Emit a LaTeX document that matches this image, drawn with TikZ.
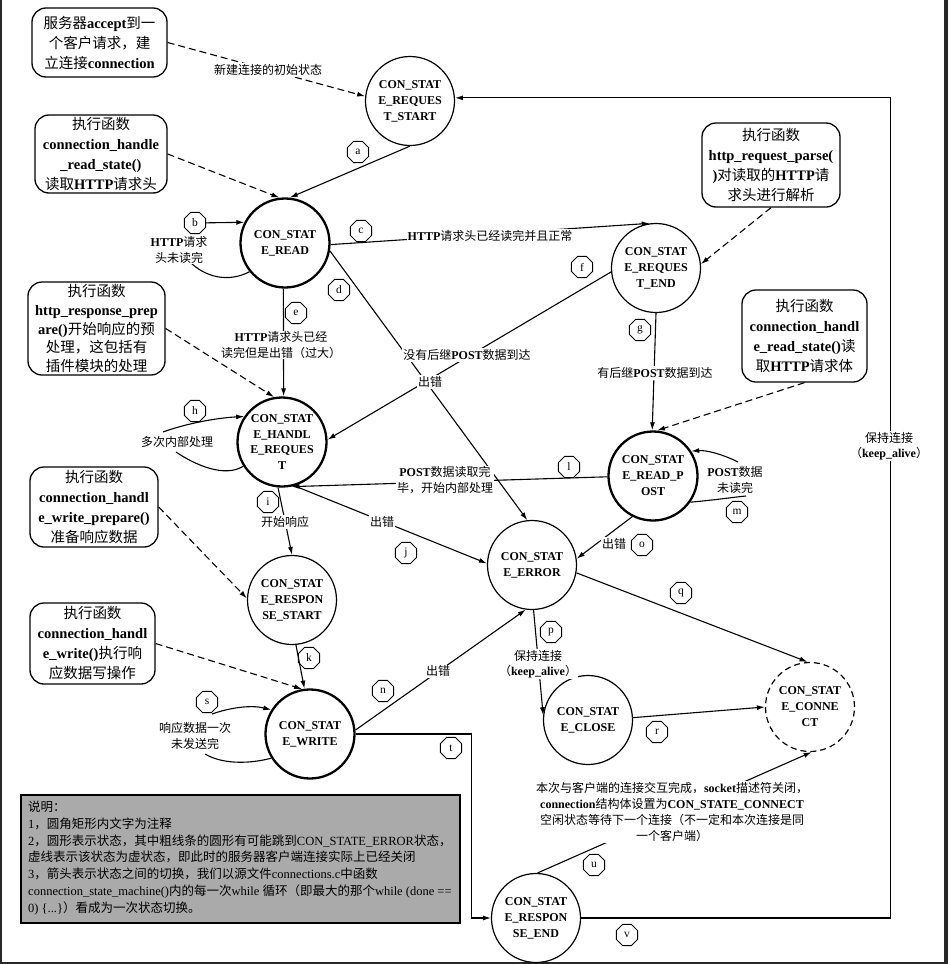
\documentclass[tikz,border=0pt]{standalone}
\usepackage{fontspec}
\setmainfont{Liberation Serif}
\newfontfamily\cjk{Noto Sans CJK SC}
\usetikzlibrary{arrows.meta,shapes.geometric}
\newcommand\zh[1]{{\cjk\mdseries #1}}
\definecolor{legendgray}{RGB}{170,170,170}
\definecolor{framedark}{RGB}{40,40,40}
\tikzset{
  st/.style={circle,draw,line width=1.2pt,minimum size=89pt,inner sep=0pt,align=center,
    font=\fontsize{12}{16}\selectfont\bfseries},
  stthick/.style={st,line width=2.3pt},
  stvirt/.style={st,dash pattern=on 6pt off 4pt},
  note/.style={draw,rounded corners=14pt,line width=1.3pt,align=center,inner sep=0pt,
    font=\fontsize{14.5}{20}\selectfont\bfseries},
  lab/.style={regular polygon,regular polygon sides=8,draw,line width=0.9pt,minimum size=23pt,
    inner sep=0pt,font=\fontsize{11.5}{12}\selectfont},
  elab/.style={fill=white,inner sep=1pt,align=center,font=\fontsize{12}{15.5}\selectfont\bfseries},
  conn/.style={line width=1.1pt,-{Latex[length=8pt,width=5pt]}},
  connl/.style={line width=1.1pt},
  notearrow/.style={conn,dash pattern=on 7pt off 4pt},
}
\begin{document}
\begin{tikzpicture}[x=1pt,y=-1pt]
\useasboundingbox (0,0) rectangle (948,964);
\fill[framedark] (0,0) rectangle (948,964);
\fill[white] (2,0) rectangle (944,962);

% states
\node[st] (rs) at (410,101) {CON\_STAT\\E\_REQUES\\T\_START};
\node[stthick] (rd) at (285,243) {CON\_STAT\\E\_READ};
\node[st] (re) at (656,268) {CON\_STAT\\E\_REQUES\\T\_END};
\node[stthick,font=\fontsize{12}{15.5}\selectfont\bfseries] (hr) at (282,442) {CON\_STAT\\E\_HANDL\\E\_REQUES\\T};
\node[stthick] (rp) at (653,476) {CON\_STAT\\E\_READ\_P\\OST};
\node[st] (er) at (532,565) {CON\_STAT\\E\_ERROR};
\node[st] (rss) at (292,600) {CON\_STAT\\E\_RESPON\\SE\_START};
\node[stthick] (wr) at (310,734) {CON\_STAT\\E\_WRITE};
\node[st] (cl) at (588,720) {CON\_STAT\\E\_CLOSE};
\node[stvirt] (cn) at (810,707) {CON\_STAT\\E\_CONNE\\CT};
\node[st] (ren) at (536,918) {CON\_STAT\\E\_RESPON\\SE\_END};

% notes
\node[note,minimum width=135pt,minimum height=69pt] (n1) at (99.5,42.5)
  {\zh{服务器}accept\zh{到一}\\\zh{个客户请求，建}\\\zh{立连接}connection};
\node[note,minimum width=132pt,minimum height=78pt] (n2) at (101,154)
  {\zh{执行函数}\\connection\_handle\\\_read\_state()\\\zh{读取}HTTP\zh{请求头}};
\node[note,minimum width=138pt,minimum height=84pt] (n3) at (771,165)
  {\zh{执行函数}\\http\_request\_parse(\\)\zh{对读取的}HTTP\zh{请}\\\zh{求头进行解析}};
\node[note,minimum width=137pt,minimum height=93pt,font=\fontsize{14.5}{18.8}\selectfont\bfseries] (n4) at (96.5,328.5)
  {\zh{执行函数}\\http\_response\_prep\\are()\zh{开始响应的预}\\\zh{处理，这包括有}\\\zh{插件模块的处理}};
\node[note,minimum width=125pt,minimum height=92pt] (n5) at (804.5,336)
  {\zh{执行函数}\\connection\_handl\\e\_read\_state()\zh{读}\\\zh{取}HTTP\zh{请求体}};
\node[note,minimum width=128pt,minimum height=80pt] (n6) at (94,507)
  {\zh{执行函数}\\connection\_handl\\e\_write\_prepare()\\\zh{准备响应数据}};
\node[note,minimum width=125pt,minimum height=81pt] (n7) at (92.5,643.5)
  {\zh{执行函数}\\connection\_handl\\e\_write()\zh{执行响}\\\zh{应数据写操作}};

% letter tags
\node[lab] (la) at (358,152) {a};
\node[lab] (lb) at (195,223) {b};
\node[lab] (lc) at (361,231) {c};
\node[lab] (ld) at (339,290) {d};
\node[lab] (le) at (296,313) {e};
\node[lab] (lf) at (582,267) {f};
\node[lab] (lg) at (640,330) {g};
\node[lab] (lh) at (195,411) {h};
\node[lab] (li) at (268,502) {i};
\node[lab] (lj) at (406,553) {j};
\node[lab] (lk) at (309,658) {k};
\node[lab] (ll) at (569,467) {l};
\node[lab] (lm) at (737,512) {m};
\node[lab] (ln) at (383,691) {n};
\node[lab] (lo) at (642,545) {o};
\node[lab] (lp) at (551,632) {p};
\node[lab] (lq) at (681,593) {q};
\node[lab] (lr) at (657,732) {r};
\node[lab] (ls) at (207,702) {s};
\node[lab] (lt) at (451,748) {t};
\node[lab] (lu) at (594,865) {u};
\node[lab] (lv) at (627,935) {v};

% free ends of loops
\coordinate (bl) at (190,262);
\coordinate (hl1) at (163,432);
\coordinate (hl2) at (176,452);
\coordinate (sl1) at (212,714);
\coordinate (sl2) at (205,754);
\coordinate (ml1) at (738,462);
\coordinate (ml2) at (746,496);

% note arrows
\draw[notearrow] (n1.east) -- (rs.174);
\draw[notearrow] (n2.east) -- (rd.97);
\draw[notearrow] (n3.south) -- (re.5);
\draw[notearrow] (n4.east) -- (hr.100);
\draw[notearrow] (n5.south) -- (rp.85);
\draw[notearrow] (n6.east) -- (rss.178);
\draw[notearrow] (n7.east) -- (wr.100);

% transitions
\draw[conn] (rs.270) -- (rd.84);
\draw[connl] (rd.219) .. controls (228,283) and (205,277) .. (bl);
\draw[conn] (lb) -- (rd.153);
\draw[conn] (rd.358) -- (re.98);
\draw[conn] (rd.350) -- (er.96);
\draw[conn] (rd.268) -- (hr.88);
\draw[conn] (re.185) -- (hr.3);
\draw[conn] (re.270) -- (rp.91);
\draw[conn] (hl1) .. controls (185,424) and (215,418) .. (hr.146);
\draw[connl] (hr.212) .. controls (225,478) and (195,465) .. (hl2);
\draw[conn] (rp.181) -- (hr.282);
\draw[conn] (ml1) .. controls (722,454) and (706,450) .. (rp.33);
\draw[connl] (rp.325) .. controls (715,500) and (735,497) .. (ml2);
\draw[conn] (hr.265) -- (rss.90);
\draw[conn] (hr.286) -- (er.178);
\draw[conn] (rss.275) -- (wr.97);
\draw[conn] (rp.243) -- (er.8);
\draw[conn] (wr.5) -- (er.262);
\draw[conn] (er.272) -- (cl.174);
\draw[conn] (er.350) -- (cn.93);
\draw[conn] (cl.3) -- (cn.180);
\draw[conn] (sl1) .. controls (232,707) and (252,705) .. (wr.148);
\draw[connl] (wr.212) .. controls (245,765) and (220,763) .. (sl2);
\draw[conn] (wr.0) -- ++(116,0) |- (ren.180);
\draw[conn] (ren.88) -- (cn.272);
\draw[conn] (ren.0) -- ++(309,0) |- (rs.4);

% edge texts
\node[elab] (t0) at (268,70) {\zh{新建连接的初始状态}};
\node[elab] (tb) at (179,250) {HTTP\zh{请求}\\\zh{头未读完}};
\node[elab] (tc) at (490,236) {HTTP\zh{请求头已经读完并且正常}};
\node[elab] (te) at (281,345) {HTTP\zh{请求头已经}\\\zh{读完但是出错（过大）}};
\node[elab] (tf1) at (467,355) {\zh{没有后继}POST\zh{数据到达}};
\node[elab] (tf2) at (430,382) {\zh{出错}};
\node[elab] (tg) at (655,373) {\zh{有后继}POST\zh{数据到达}};
\node[elab] (th) at (177,442) {\zh{多次内部处理}};
\node[elab] (tl) at (445,480) {POST\zh{数据读取完}\\\zh{毕，开始内部处理}};
\node[elab] (tm) at (735,480) {POST\zh{数据}\\\zh{未读完}};
\node[elab] (ti) at (285,522) {\zh{开始响应}};
\node[elab] (tj) at (382,522) {\zh{出错}};
\node[elab] (tlo) at (614,544) {\zh{出错}};
\node[elab] (tn) at (438,671) {\zh{出错}};
\node[elab] (tp) at (538,664) {\zh{保持连接}\\\zh{（}keep\_alive\zh{）}};
\node[elab] (ts) at (195,736) {\zh{响应数据一次}\\\zh{未发送完}};
\node[elab,font=\fontsize{12}{16.3}\selectfont\bfseries] (tu) at (672,812)
  {\zh{本次与客户端的连接交互完成，}socket\zh{描述符关闭，}\\connection\zh{结构体设置为}CON\_STATE\_CONNECT\\\zh{空闲状态等待下一个连接（不一定和本次连接是同}\\\zh{一个客户端）}};
\node[elab] (tv) at (889,446) {\zh{保持连接}\\\zh{（}keep\_alive\zh{）}};

% legend
\node[draw,line width=1.3pt,fill=legendgray,minimum width=439pt,minimum height=128pt,inner sep=0pt] (legend) at (240.5,859) {};
\node[anchor=west,align=left,inner sep=0pt,font=\fontsize{12.5}{16.7}\selectfont] (legendtext) at (28,858)
  {\zh{说明：}\\
   1\zh{，圆角矩形内文字为注释}\\
   2\zh{，圆形表示状态，其中粗线条的圆形有可能跳到}CON\_STATE\_ERROR\zh{状态，}\\
   \zh{虚线表示该状态为虚状态，即此时的服务器客户端连接实际上已经关闭}\\
   3\zh{，箭头表示状态之间的切换，我们以源文件}connections.c\zh{中函数}\\
   connection\_state\_machine()\zh{内的每一次}while \zh{循环（即最大的那个}while (done ==\\
   0) \{...\}\zh{）看成为一次状态切换。}};
\end{tikzpicture}
\end{document}
